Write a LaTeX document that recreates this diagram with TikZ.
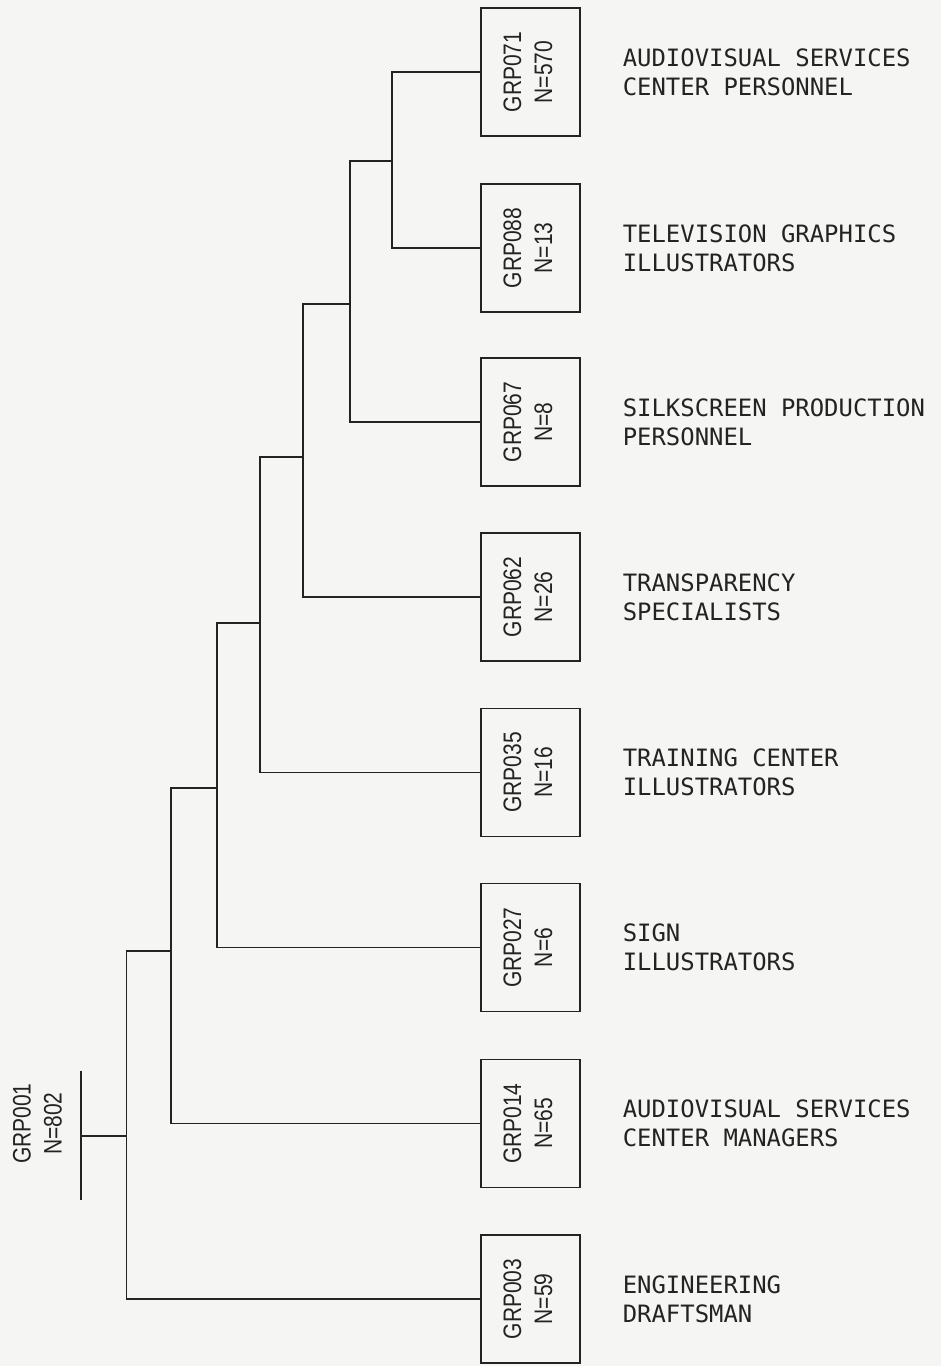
\documentclass[tikz,border=0pt]{standalone}
\usepackage{graphicx}
\usepackage{fontspec}
\newfontfamily\grpfont[FakeStretch=0.83]{Liberation Sans}
\newfontfamily\labfont{DejaVu Sans Mono}
\usetikzlibrary{positioning}
\definecolor{paper}{RGB}{245,245,243}
\definecolor{ink}{RGB}{35,35,35}
\newcommand{\grplab}[2]{\rotatebox{90}{\begin{tabular}{@{}c@{}}#1\\#2\end{tabular}}}

\begin{document}
\begin{tikzpicture}[
    grp/.style={rectangle, draw=ink, line width=0.9pt, minimum width=2.475cm, minimum height=3.2cm, inner sep=0pt, text=ink, font=\grpfont\fontsize{18}{22}\selectfont},
    lab/.style={align=left, inner sep=0pt, text=ink, font=\labfont\fontsize{17}{20.6}\selectfont},
    link/.style={draw=ink, line width=0.9pt}
]
    \useasboundingbox[fill=paper] (0,0) rectangle (23.525,34.15);

    % Leaf group boxes
    \node[grp] (g071) at (13.26, 32.35) {\grplab{GRP071}{N=570}};
    \node[grp] (g088) at (13.26, 27.95) {\grplab{GRP088}{N=13}};
    \node[grp] (g067) at (13.26, 23.6) {\grplab{GRP067}{N=8}};
    \node[grp] (g062) at (13.26, 19.225) {\grplab{GRP062}{N=26}};
    \node[grp] (g035) at (13.26, 14.84) {\grplab{GRP035}{N=16}};
    \node[grp] (g027) at (13.26, 10.46) {\grplab{GRP027}{N=6}};
    \node[grp] (g014) at (13.26, 6.06) {\grplab{GRP014}{N=65}};
    \node[grp] (g003) at (13.26, 1.675) {\grplab{GRP003}{N=59}};

    % Job titles beside the boxes
    \node[lab, right=1.05cm of g071] (l071) {AUDIOVISUAL SERVICES\\CENTER PERSONNEL};
    \node[lab, right=1.05cm of g088] (l088) {TELEVISION GRAPHICS\\ILLUSTRATORS};
    \node[lab, right=1.05cm of g067] (l067) {SILKSCREEN PRODUCTION\\PERSONNEL};
    \node[lab, right=1.05cm of g062] (l062) {TRANSPARENCY\\SPECIALISTS};
    \node[lab, right=1.05cm of g035] (l035) {TRAINING CENTER\\ILLUSTRATORS};
    \node[lab, right=1.05cm of g027] (l027) {SIGN\\ILLUSTRATORS};
    \node[lab, right=1.05cm of g014] (l014) {AUDIOVISUAL SERVICES\\CENTER MANAGERS};
    \node[lab, right=1.05cm of g003] (l003) {ENGINEERING\\DRAFTSMAN};

    % Root group
    \node[inner sep=0pt, text=ink, font=\grpfont\fontsize{18}{22}\selectfont] (g001) at (1.0, 6.06) {\grplab{GRP001}{N=802}};
    \coordinate (rtop) at (2.025, 7.375);
    \coordinate (rbot) at (2.025, 4.15);
    \coordinate (r) at (2.025, 5.75);

    % Merge points
    \coordinate (j1) at (9.8, 30.125);
    \coordinate (j2) at (8.75, 26.55);
    \coordinate (j3) at (7.575, 22.725);
    \coordinate (j4) at (6.5, 18.575);
    \coordinate (j5) at (5.425, 14.45);
    \coordinate (j6) at (4.275, 10.375);
    \coordinate (j7) at (3.16, 5.75);

    % Tree
    \draw[link] (g071.west) -| (j1) |- (g088.west);
    \draw[link] (j1) -| (j2) |- (g067.west);
    \draw[link] (j2) -| (j3) |- (g062.west);
    \draw[link] (j3) -| (j4) |- (g035.west);
    \draw[link] (j4) -| (j5) |- (g027.west);
    \draw[link] (j5) -| (j6) |- (g014.west);
    \draw[link] (j6) -| (j7) |- (g003.west);
    \draw[link] (j7) -- (r);
    \draw[link] (rtop) -- (rbot);
\end{tikzpicture}
\end{document}
